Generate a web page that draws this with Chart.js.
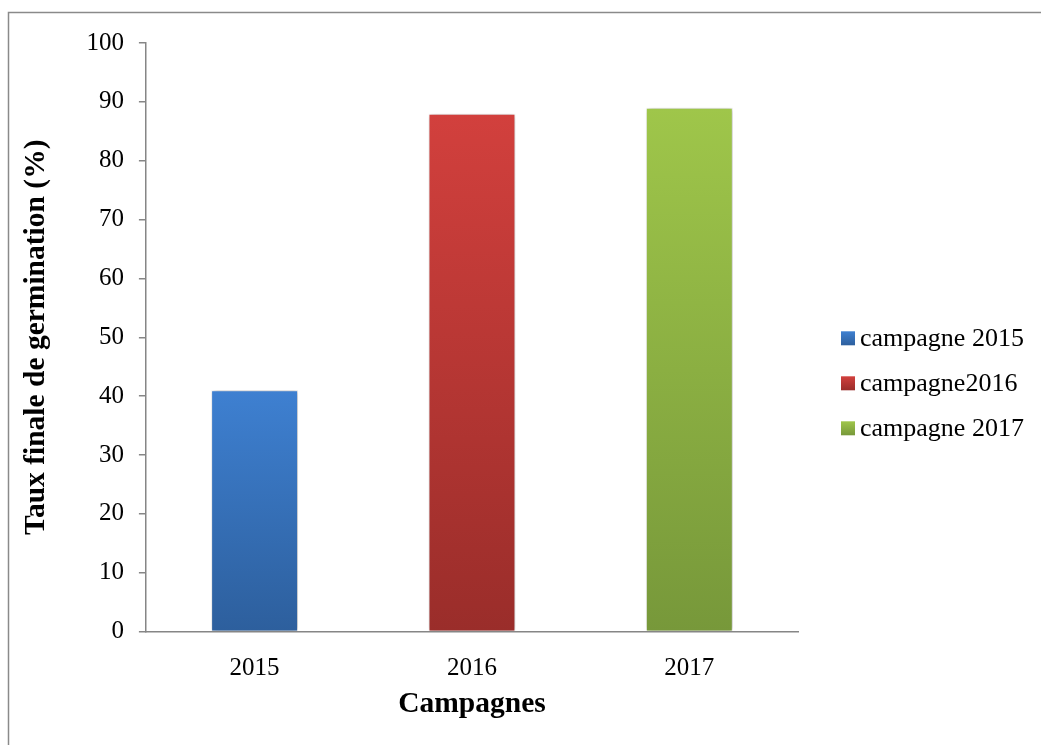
<!DOCTYPE html>
<html lang="fr">
<head>
<meta charset="utf-8">
<title>Taux finale de germination</title>
<script src="https://cdn.jsdelivr.net/npm/chart.js@4.4.1/dist/chart.umd.min.js"></script>
<style>
    html, body { margin: 0; padding: 0; background: #fff; }
    #wrap { width: 1041px; height: 745px; position: relative; }
</style>
</head>
<body>
<div id="wrap"><canvas id="germChart"></canvas></div>
<script>
// Data
const categories = ['2015', '2016', '2017'];
const seriesLabels = ['campagne 2015', 'campagne2016', 'campagne 2017'];
const rates = [41, 88, 89];

// Excel-like two-stop gradients (top, bottom)
const topColors = ['#3e80d1', '#d2403d', '#9fc64a'];
const bottomColors = ['#2d5f9d', '#9a2d2a', '#77983a'];

const FONT = "'Liberation Serif', 'Times New Roman', serif";

// gradient runs over each bar, from its top down to the zero line
function barGradient(i) {
    return (ctx) => {
        const chart = ctx.chart;
        const ys = chart.scales.y;
        if (!chart.chartArea || ctx.dataIndex === undefined || !ys) return bottomColors[i];
        const v = ctx.dataset.data[ctx.dataIndex];
        if (v == null) return bottomColors[i];
        const g = chart.ctx.createLinearGradient(0, ys.getPixelForValue(v), 0, ys.getPixelForValue(0));
        g.addColorStop(0, topColors[i]);
        g.addColorStop(1, bottomColors[i]);
        return g;
    };
}

const datasets = seriesLabels.map((label, i) => ({
    label,
    data: categories.map((_, j) => (j === i ? rates[i] : null)),
    backgroundColor: barGradient(i),
    borderColor: 'rgba(255,255,255,0.25)',
    borderWidth: 1,
    categoryPercentage: 0.4,
    barPercentage: 1
}));

// outer frame (top and left edges only) + soft shadow under the bars
const framePlugin = {
    id: 'frame',
    beforeDraw(chart) {
        const c = chart.ctx;
        c.save();
        c.strokeStyle = '#8a8a8a';
        c.lineWidth = 1.5;
        c.beginPath();
        c.moveTo(8.5, chart.height);
        c.lineTo(8.5, 12.5);
        c.lineTo(chart.width, 12.5);
        c.stroke();
        c.restore();
    },
    beforeDatasetsDraw(chart) {
        const c = chart.ctx;
        c.save();
        c.shadowColor = 'rgba(0,0,0,0.35)';
        c.shadowBlur = 5;
        c.shadowOffsetX = 1;
        c.shadowOffsetY = 0;
    },
    afterDatasetsDraw(chart) {
        chart.ctx.restore();
    }
};

// legend to the right of the plot, one row per dataset
const sideLegend = {
    id: 'sideLegend',
    afterDraw(chart) {
        const { ctx, chartArea } = chart;
        const items = chart.data.datasets;
        const box = 14, rowGap = 45;
        const x = chartArea.right + 43;
        const midY = (chartArea.top + chartArea.bottom) / 2 + 46;
        ctx.save();
        ctx.font = `26px ${FONT}`;
        ctx.textBaseline = 'middle';
        ctx.textAlign = 'left';
        items.forEach((ds, i) => {
            const y = midY + (i - (items.length - 1) / 2) * rowGap;
            const g = ctx.createLinearGradient(0, y - box / 2, 0, y + box / 2);
            g.addColorStop(0, topColors[i]);
            g.addColorStop(1, bottomColors[i]);
            ctx.fillStyle = g;
            ctx.fillRect(x, y - box / 2, box, box);
            ctx.fillStyle = '#000';
            ctx.fillText(ds.label, x + box + 5, y + 1);
        });
        ctx.restore();
    }
};

new Chart(document.getElementById('germChart'), {
    type: 'bar',
    data: { labels: categories, datasets },
    plugins: [framePlugin, sideLegend],
    options: {
        responsive: true,
        maintainAspectRatio: false,
        animation: false,
        skipNull: true,
        layout: { padding: { top: 43, bottom: 6, left: 0, right: 243 } },
        plugins: {
            tooltip: { enabled: false },
            legend: { display: false }
        },
        scales: {
            x: {
                grid: { display: false, drawTicks: false },
                border: { display: true, color: '#868686', width: 1.5 },
                ticks: { color: '#000', padding: 22, font: { family: FONT, size: 25 } },
                title: {
                    display: true,
                    text: 'Campagnes',
                    color: '#000',
                    padding: { top: -19, bottom: 17 },
                    font: { family: FONT, size: 29.5, weight: 'bold' }
                }
            },
            y: {
                min: 0,
                max: 100,
                grid: { drawOnChartArea: false, tickLength: 7, color: '#868686', lineWidth: 1.5 },
                border: { display: true, color: '#868686', width: 1.5 },
                ticks: { stepSize: 10, color: '#000', padding: 15, font: { family: FONT, size: 25 } },
                title: {
                    display: true,
                    text: 'Taux finale de germination (%)',
                    color: '#000',
                    padding: { top: 19, bottom: 17 },
                    font: { family: FONT, size: 29.5, weight: 'bold' }
                }
            }
        }
    }
});
</script>
</body>
</html>
